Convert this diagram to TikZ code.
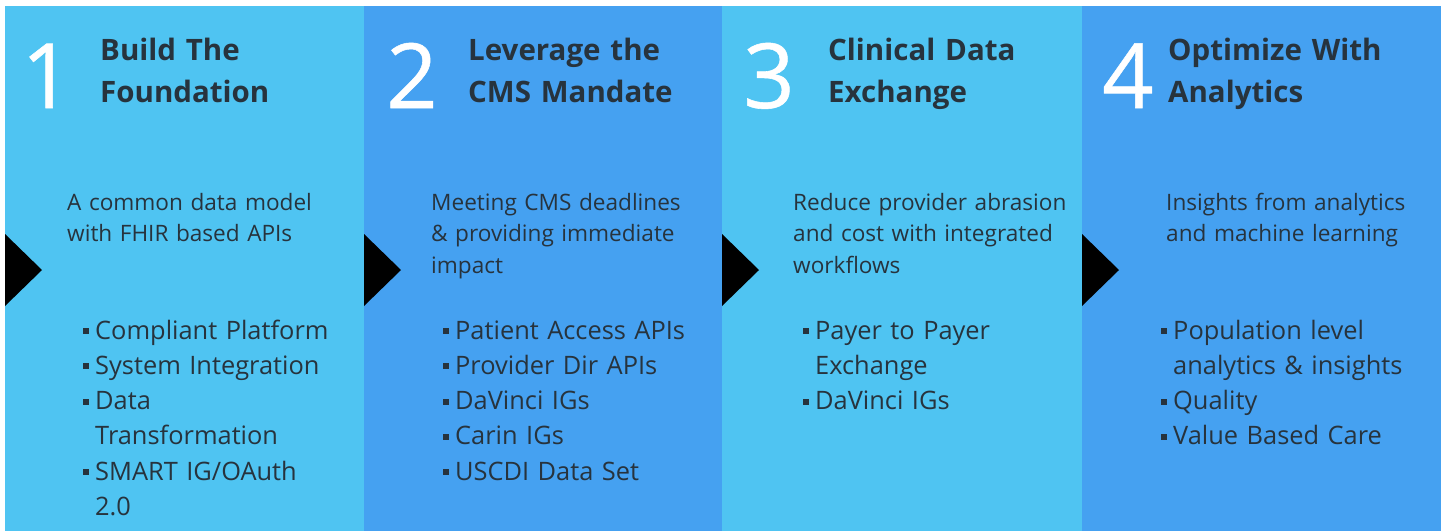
\documentclass[tikz,border=0pt]{standalone}
\usepackage{fontspec}
\setmainfont{Open Sans}
\newfontfamily\numfont[FakeBold=0.6]{Open Sans}
\usetikzlibrary{calc}

\definecolor{lightpanel}{HTML}{4FC4F2}
\definecolor{darkpanel}{HTML}{45A1F1}
\definecolor{ink}{HTML}{27333D}

% bullet marker and hanging indent for wrapped items
\newcommand{\sqb}{\makebox[12pt][l]{\rule[5pt]{6pt}{6pt}}}
\newcommand{\hang}{\hspace*{12pt}}

\tikzset{
	panel/.style={fill=#1, anchor=north west, inner sep=0, minimum width=360pt, minimum height=525pt},
	stepnum/.style={text=white, anchor=base, inner sep=0, font=\numfont\fontsize{90}{90}\selectfont},
	steptitle/.style={text=ink, anchor=base west, inner sep=0, text width=320pt, align=left, font=\fontsize{29.5}{42}\selectfont\bfseries},
	stepdesc/.style={text=ink, anchor=base west, inner sep=0, text width=300pt, align=left, font=\fontsize{22.6}{31.5}\selectfont},
	steplist/.style={text=ink, anchor=base west, inner sep=0, text width=300pt, align=left, font=\fontsize{25.4}{35.3}\selectfont},
}

\begin{document}
\begin{tikzpicture}[x=1pt, y=-1pt]
	\useasboundingbox[fill=white] (0,0) rectangle (1449,531);
	\node[panel=lightpanel] (p1) at (5,6) {};
	\node[panel=darkpanel] (p2) at (364,6) {};
	\node[panel=lightpanel] (p3) at (722,6) {};
	\node[panel=darkpanel, minimum width=359pt] (p4) at (1082,6) {};
	\fill[black] ($(p1.north west)+(0,228)$) -- ++(37,36) -- ++(-37,36) -- cycle;
	\fill[black] ($(p2.north west)+(0,228)$) -- ++(37,36) -- ++(-37,36) -- cycle;
	\fill[black] ($(p3.north west)+(0,228)$) -- ++(37,36) -- ++(-37,36) -- cycle;
	\fill[black] ($(p4.north west)+(0,228)$) -- ++(37,36) -- ++(-37,36) -- cycle;
	% step 1
	\node[stepnum] (num1) at ($(p1.north west)+(42,102)$) {1};
	\node[steptitle] (title1) at ($(p1.north west)+(95,54)$) {Build The\\Foundation};
	\node[stepdesc] (desc1) at ($(p1.north west)+(62,204)$) {A common data model\\with FHIR based APIs};
	\node[steplist] (list1) at ($(p1.north west)+(78,333)$) {\sqb Compliant Platform\\\sqb System Integration\\\sqb Data\\\hang Transformation\\\sqb SMART IG/OAuth\\\hang 2.0};
	% step 2
	\node[stepnum] (num2) at ($(p2.north west)+(48,102)$) {2};
	\node[steptitle] (title2) at ($(p2.north west)+(104,54)$) {Leverage the\\CMS Mandate};
	\node[stepdesc] (desc2) at ($(p2.north west)+(67,204)$) {Meeting CMS deadlines\\\& providing immediate\\impact};
	\node[steplist] (list2) at ($(p2.north west)+(79,333)$) {\sqb Patient Access APIs\\\sqb Provider Dir APIs\\\sqb DaVinci IGs\\\sqb Carin IGs\\\sqb USCDI Data Set};
	% step 3
	\node[stepnum] (num3) at ($(p3.north west)+(47,102)$) {3};
	\node[steptitle] (title3) at ($(p3.north west)+(106,54)$) {Clinical Data\\Exchange};
	\node[stepdesc] (desc3) at ($(p3.north west)+(71,204)$) {Reduce provider abrasion\\and cost with integrated\\workflows};
	\node[steplist] (list3) at ($(p3.north west)+(81,333)$) {\sqb Payer to Payer\\\hang Exchange\\\sqb DaVinci IGs};
	% step 4
	\node[stepnum] (num4) at ($(p4.north west)+(46,102)$) {4};
	\node[steptitle] (title4) at ($(p4.north west)+(86,54)$) {Optimize With\\Analytics};
	\node[stepdesc] (desc4) at ($(p4.north west)+(84,204)$) {Insights from analytics\\and machine learning};
	\node[steplist] (list4) at ($(p4.north west)+(79,333)$) {\sqb Population level\\\hang analytics \& insights\\\sqb Quality\\\sqb Value Based Care};
\end{tikzpicture}
\end{document}
